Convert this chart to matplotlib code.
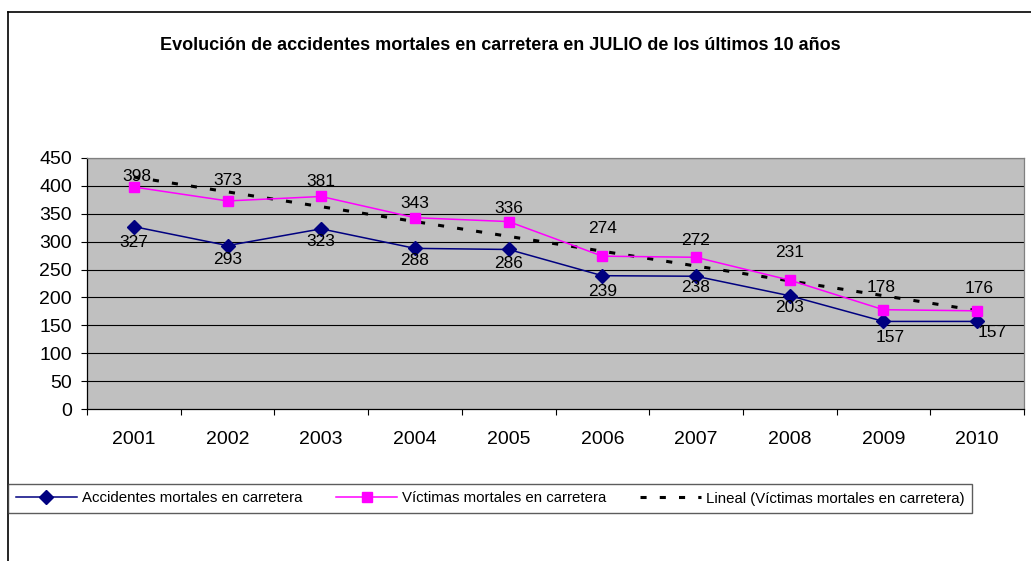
import numpy as np
import matplotlib
matplotlib.use("Agg")
import matplotlib.pyplot as plt
from matplotlib.lines import Line2D

years = ["2001", "2002", "2003", "2004", "2005", "2006", "2007", "2008", "2009", "2010"]
accidentes = [327, 293, 323, 288, 286, 239, 238, 203, 157, 157]
victimas = [398, 373, 381, 343, 336, 274, 272, 231, 178, 176]

title = "Evolución de accidentes mortales en carretera en JULIO de los últimos 10 años"
name_acc = "Accidentes mortales en carretera"
name_vic = "Víctimas mortales en carretera"
name_trend = "Lineal (Víctimas mortales en carretera)"

# label offsets in pixels (style only)
vic_off = [(3, 11), (0, 20), (0, 15), (0, 14), (0, 13), (0, 28), (0, 17), (0, 28), (-2, 22), (2, 22)]
acc_off = [(0, -16), (0, -14), (0, -13), (0, -12), (0, -14), (0, -16), (0, -11), (0, -12), (7, -16), (15, -11)]

plt.rcParams['font.family'] = ['Liberation Sans', 'DejaVu Sans']

W, H = 1031, 561
fig = plt.figure(figsize=(W / 100, H / 100), dpi=100)

L, R, T, B = 87, 1024, 158, 409
ax = fig.add_axes([L / W, 1 - B / H, (R - L) / W, (B - T) / H])
ax.set_facecolor('#C0C0C0')

x = np.arange(1, len(years) + 1)

# gridlines
for v in range(50, 451, 50):
    ax.axhline(v, color='black', lw=0.8, zorder=1)

# trend line (linear fit of victims)
coef = np.polyfit(x, victimas, 1)
trend = np.polyval(coef, x)
ax.plot(x, trend, color='black', lw=2.2, linestyle=(0, (2.0, 4.3)),
        dash_capstyle='butt', zorder=3)

ax.plot(x, accidentes, color='#000080', lw=1.1, marker='D', markersize=7,
        markerfacecolor='#000080', markeredgecolor='#000080', zorder=4)
ax.plot(x, victimas, color='#FF00FF', lw=1.1, marker='s', markersize=6.5,
        markerfacecolor='#FF00FF', markeredgecolor='#FF00FF', zorder=4)

for i in range(len(x)):
    ax.annotate(str(victimas[i]), (x[i], victimas[i]), xytext=vic_off[i],
                textcoords='offset pixels', ha='center', va='center',
                fontsize=12.5, zorder=5)
    ax.annotate(str(accidentes[i]), (x[i], accidentes[i]), xytext=acc_off[i],
                textcoords='offset pixels', ha='center', va='center',
                fontsize=12.5, zorder=5)

ax.set_xlim(0.5, len(years) + 0.5)
ax.set_ylim(0, 450)
ax.set_yticks(range(0, 451, 50))
ax.tick_params(axis='y', direction='out', length=4.3, width=0.8, pad=6.5,
               labelsize=14, colors='black')
ax.set_xticks(np.arange(0.5, len(years) + 1, 1.0))
ax.set_xticklabels([])
ax.tick_params(axis='x', which='major', direction='out', length=4, width=0.8)
ax.set_xticks(x, minor=True)
ax.set_xticklabels(years, minor=True)
ax.tick_params(axis='x', which='minor', length=0, pad=16, labelsize=14)

for s in ['left', 'bottom']:
    ax.spines[s].set_color('black')
    ax.spines[s].set_linewidth(0.9)
for s in ['top', 'right']:
    ax.spines[s].set_color('#808080')
    ax.spines[s].set_linewidth(0.9)

# title
fig.text(500 / W, 1 - 45 / H, title, ha='center', va='center',
         fontsize=13, fontweight='bold')

# outer chart border (top and left visible)
fig.add_artist(Line2D([8 / W, 1.0], [1 - 12 / H, 1 - 12 / H], color='black', lw=1.2,
                      transform=fig.transFigure))
fig.add_artist(Line2D([8 / W, 8 / W], [1 - 12 / H, 0.0], color='black', lw=1.2,
                      transform=fig.transFigure))

handles = [
    Line2D([], [], color='#000080', lw=1.1, marker='D', markersize=7,
           markerfacecolor='#000080', markeredgecolor='#000080'),
    Line2D([], [], color='#FF00FF', lw=1.1, marker='s', markersize=6.5,
           markerfacecolor='#FF00FF', markeredgecolor='#FF00FF'),
    Line2D([], [], color='black', lw=2.2, linestyle=(0, (2.0, 4.3)), dash_capstyle='butt'),
]
leg = fig.legend(handles, [name_acc, name_vic, name_trend], ncol=3,
                 loc='lower left', mode='expand',
                 bbox_to_anchor=(8 / W, 1 - 513 / H, (972 - 8) / W, (513 - 479) / H),
                 fontsize=10.8, frameon=True, fancybox=False, edgecolor='#333333',
                 handlelength=4.1, handletextpad=0.3, borderaxespad=0,
                 borderpad=0.5, columnspacing=1.5)
leg.get_frame().set_linewidth(1.0)
leg._legend_box.align = 'left'
leg.borderpad = 0.5

fig.savefig('out.png', dpi=100)
